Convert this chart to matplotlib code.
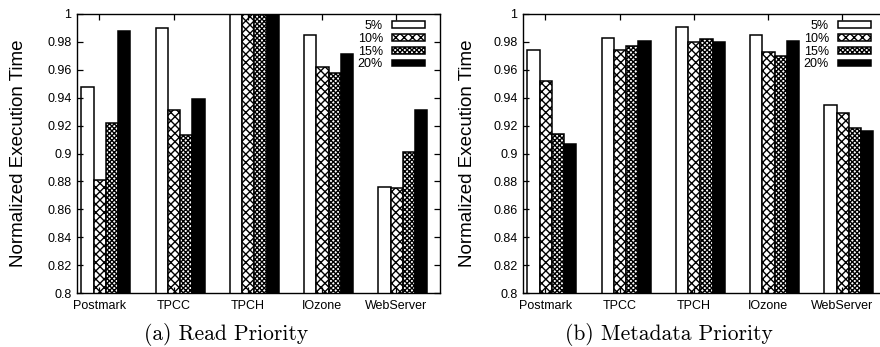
import numpy as np
import matplotlib
matplotlib.use("Agg")
import matplotlib.pyplot as plt
from matplotlib.ticker import FuncFormatter

# Benchmarks and cache-share settings
categories = ["Postmark", "TPCC", "TPCH", "IOzone", "WebServer"]
series_labels = ["5%", "10%", "15%", "20%"]

# (a) Read Priority: normalized execution time per benchmark
read_5 = [0.948, 0.990, 1.000, 0.985, 0.876]
read_10 = [0.881, 0.931, 1.000, 0.962, 0.875]
read_15 = [0.922, 0.913, 1.000, 0.958, 0.901]
read_20 = [0.988, 0.939, 1.000, 0.971, 0.931]

# (b) Metadata Priority: normalized execution time per benchmark
meta_5 = [0.974, 0.983, 0.991, 0.985, 0.935]
meta_10 = [0.952, 0.974, 0.980, 0.973, 0.929]
meta_15 = [0.914, 0.977, 0.982, 0.970, 0.918]
meta_20 = [0.907, 0.981, 0.980, 0.981, 0.916]

y_ticks = [0.8, 0.82, 0.84, 0.86, 0.88, 0.9, 0.92, 0.94, 0.96, 0.98, 1.0]

plt.rcParams["font.family"] = ["Liberation Sans", "DejaVu Sans"]
plt.rcParams["hatch.linewidth"] = 1.0

styles = [
    dict(facecolor="white", hatch=None),
    dict(facecolor="white", hatch="xxxx"),
    dict(facecolor="white", hatch="xxxxxxx"),
    dict(facecolor="black", hatch=None),
]

fig = plt.figure(figsize=(8.8, 3.47), dpi=100)

W = 363 / 880
H = 279 / 347
Y0 = 54 / 347
ax_a = fig.add_axes([77 / 880, Y0, W, H])
ax_b = fig.add_axes([523 / 880, Y0, W, H])

bar_w = 0.165
first_edge = -0.24
x = np.arange(len(categories))


def draw_panel(ax, data, label_x):
    for j, (vals, st) in enumerate(zip(data, styles)):
        left = x + first_edge + j * bar_w
        ax.bar(left, vals, width=bar_w, align="edge", bottom=0,
               facecolor=st["facecolor"], hatch=st["hatch"],
               edgecolor="black", linewidth=1.1, label=series_labels[j])
    ax.set_xlim(-0.30, 4.59)
    ax.set_ylim(0.8, 1.0)
    ax.set_yticks(y_ticks)
    ax.yaxis.set_major_formatter(FuncFormatter(lambda v, p: f"{v:g}"))
    ax.set_xticks(x)
    ax.set_xticklabels(categories, fontsize=9)
    ax.tick_params(axis="both", direction="in", length=4, width=0.9,
                   top=True, right=True, labelsize=9, pad=4)
    ax.tick_params(axis="x", pad=5)
    for s in ax.spines.values():
        s.set_linewidth(1.0)
    ax.set_ylabel("Normalized Execution Time", fontsize=13.5)
    ax.yaxis.label.set_va("center")
    ax.yaxis.set_label_coords(label_x, 0.5)
    leg = ax.legend(loc="upper right", bbox_to_anchor=(0.960, 0.978),
                    frameon=False, markerfirst=False, fontsize=9,
                    handlelength=2.7, handleheight=0.45, handletextpad=0.7,
                    labelspacing=0.06, borderpad=0, borderaxespad=0)
    leg.set_zorder(10)
    return leg


draw_panel(ax_a, [read_5, read_10, read_15, read_20], -58 / 363)
draw_panel(ax_b, [meta_5, meta_10, meta_15, meta_20], -56 / 363)

fig.text(226 / 880, 1 - 335 / 347, "(a) Read Priority", family="cmr10",
         fontsize=15.5, ha="center", va="center")
fig.text(669 / 880, 1 - 335 / 347, "(b) Metadata Priority", family="cmr10",
         fontsize=15.5, ha="center", va="center")

fig.savefig("out.png", dpi=100)
